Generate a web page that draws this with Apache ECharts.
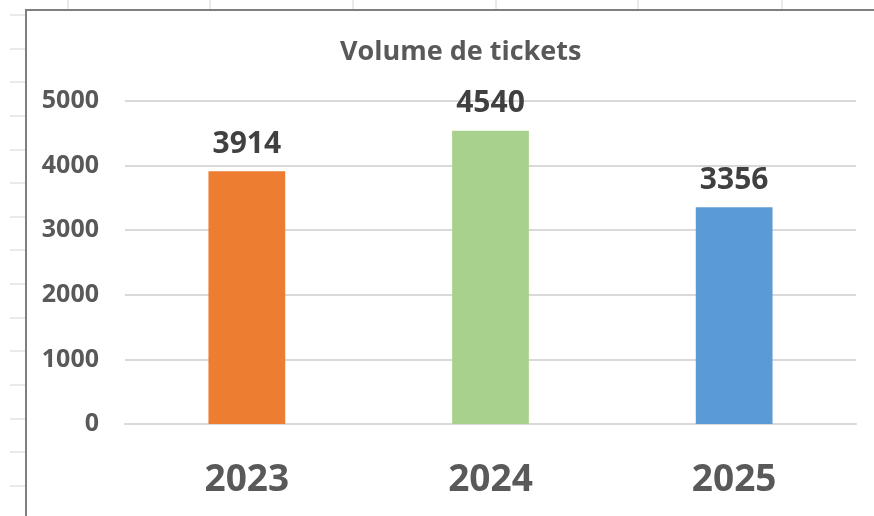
<!DOCTYPE html>
<html>
<head>
<meta charset="utf-8">
<script src="https://cdn.jsdelivr.net/npm/echarts@6/dist/echarts.min.js"></script>
<style>
  html, body { margin: 0; padding: 0; background: #fff; }
  #chart { width: 874px; height: 516px; }
</style>
</head>
<body>
<div id="chart"></div>
<script>
  var years = ['2023', '2024', '2025'];
  var tickets = [3914, 4540, 3356];
  var barColors = ['#ED7D31', '#A9D18E', '#5B9BD5'];

  var font = '"Open Sans", "Noto Sans", sans-serif';

  // spreadsheet cells visible around the chart frame
  var sheetCols = [68, 210, 353, 496, 638, 782];
  var sheetRows = [15, 49, 82, 116, 150, 183, 217, 250, 284, 318, 351, 385, 419, 452, 486];

  var deco = [];
  sheetCols.forEach(function(x) {
    deco.push({ type: 'line', shape: { x1: x, y1: 0, x2: x, y2: 10 },
      style: { stroke: '#d4d4d4', lineWidth: 1 } });
  });
  sheetRows.forEach(function(y) {
    deco.push({ type: 'line', shape: { x1: 10, y1: y, x2: 26, y2: y },
      style: { stroke: '#d4d4d4', lineWidth: 1 } });
  });
  deco.push({ type: 'polyline', shape: { points: [[26, 516], [26, 10], [874, 10]] },
    style: { stroke: '#7f7f7f', lineWidth: 2, fill: null } });

  var chart = echarts.init(document.getElementById('chart'));

  chart.setOption({
    animation: false,
    backgroundColor: '#fff',
    textStyle: { fontFamily: font },
    title: {
      text: 'Volume de tickets',
      left: 335,
      top: 34,
      textStyle: { fontFamily: font, fontSize: 27, fontWeight: 'bold', color: '#595959' }
    },
    grid: { left: 125, right: 18, top: 101, bottom: 92, containLabel: false },
    xAxis: {
      type: 'category',
      data: years,
      axisLine: { show: true, lineStyle: { color: '#d9d9d9', width: 2 } },
      axisTick: { show: false },
      axisLabel: {
        margin: 38,
        fontFamily: font,
        fontSize: 37,
        fontWeight: 'bold',
        color: '#595959'
      }
    },
    yAxis: {
      type: 'value',
      min: 0,
      max: 5000,
      interval: 1000,
      axisLine: { show: false },
      axisTick: { show: false },
      splitLine: { lineStyle: { color: '#d9d9d9', width: 2 } },
      axisLabel: {
        margin: 26,
        fontFamily: font,
        fontSize: 25,
        fontWeight: 'bold',
        color: '#595959',
        formatter: function(v) { return String(v); }
      }
    },
    series: [{
      type: 'bar',
      barWidth: '31.5%',
      data: tickets.map(function(v, i) {
        return { value: v, itemStyle: { color: barColors[i] } };
      }),
      label: {
        show: true,
        position: 'top',
        distance: 12,
        fontFamily: font,
        fontSize: 30,
        fontWeight: 'bold',
        color: '#404040'
      }
    }],
    graphic: deco
  });
</script>
</body>
</html>
